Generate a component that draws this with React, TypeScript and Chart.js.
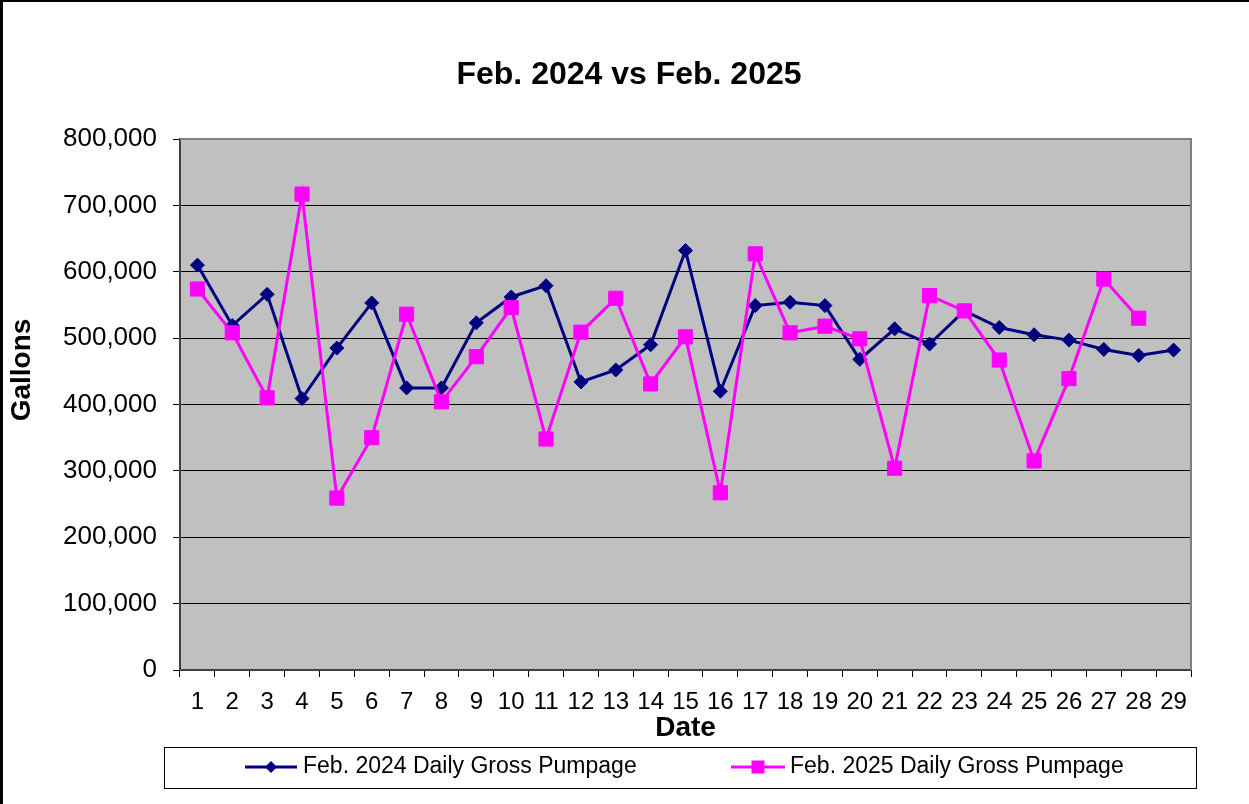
import React, { useEffect, useRef } from "react";
import { Chart, registerables } from "chart.js";

Chart.register(...registerables);

const days = [
  "1", "2", "3", "4", "5", "6", "7", "8", "9", "10",
  "11", "12", "13", "14", "15", "16", "17", "18", "19", "20",
  "21", "22", "23", "24", "25", "26", "27", "28", "29",
];

const feb2024 = [
  610000, 519000, 566000, 409000, 485000, 553000, 425000, 425000, 523000, 562000,
  579000, 434000, 452000, 490000, 632000, 420000, 549000, 554000, 549000, 468000,
  514000, 491000, 541000, 516000, 505000, 497000, 483000, 474000, 482000,
];

const feb2025 = [
  574000, 508000, 410000, 717000, 259000, 350000, 536000, 404000, 472000, 546000,
  348000, 509000, 560000, 431000, 502000, 267000, 627000, 508000, 518000, 499000,
  304000, 564000, 541000, 467000, 315000, 439000, 589000, 530000, null,
];

const seriesNames = ["Feb. 2024 Daily Gross Pumpage", "Feb. 2025 Daily Gross Pumpage"];
const chartTitle = "Feb. 2024 vs Feb. 2025";
const xTitle = "Date";
const yTitle = "Gallons";
const yMin = 0;
const yMax = 800000;
const yStep = 100000;

const FONT = "'Liberation Sans', Arial, Helvetica, sans-serif";
const NAVY = "#000080";
const PINK = "#FF00FF";

const decorPlugin = {
  id: "decor",
  beforeDraw(chart: any) {
    const { ctx, chartArea: a, width, height } = chart;
    ctx.save();
    ctx.fillStyle = "#ffffff";
    ctx.fillRect(0, 0, width, height);
    ctx.fillStyle = "#C0C0C0";
    ctx.fillRect(a.left, a.top, a.right - a.left, a.bottom - a.top);
    ctx.restore();
  },
  afterDraw(chart: any) {
    const { ctx, chartArea: a, width, height } = chart;
    ctx.save();
    // plot frame (top and right)
    ctx.strokeStyle = "#808080";
    ctx.lineWidth = 2;
    ctx.beginPath();
    ctx.moveTo(a.left, a.top);
    ctx.lineTo(a.right, a.top);
    ctx.lineTo(a.right, a.bottom);
    ctx.stroke();

    // outer chart border (left and top visible)
    ctx.fillStyle = "#000";
    ctx.fillRect(0, 0, 3, height);
    ctx.fillRect(0, 0, width, 2);

    // chart title
    ctx.font = `bold 32px ${FONT}`;
    ctx.fillStyle = "#000";
    ctx.textAlign = "center";
    ctx.textBaseline = "middle";
    ctx.fillText(chartTitle, 629, 75);

    // y axis title
    ctx.save();
    ctx.translate(22, 370);
    ctx.rotate(-Math.PI / 2);
    ctx.font = `bold 28px ${FONT}`;
    ctx.fillStyle = "#000";
    ctx.textAlign = "center";
    ctx.textBaseline = "middle";
    ctx.fillText(yTitle, 0, 0);
    ctx.restore();

    // legend box
    ctx.strokeStyle = "#000";
    ctx.lineWidth = 1;
    ctx.strokeRect(164.5, 747.5, 1032, 41);
    const cy = 767;
    const items = [
      { x0: 245, x1: 297, tx: 303 },
      { x0: 731, x1: 785, tx: 790 },
    ];
    chart.data.datasets.forEach((ds: any, i: number) => {
      const it = items[i];
      ctx.strokeStyle = ds.borderColor;
      ctx.lineWidth = 3;
      ctx.beginPath();
      ctx.moveTo(it.x0, cy);
      ctx.lineTo(it.x1, cy);
      ctx.stroke();
      const mx = (it.x0 + it.x1) / 2;
      ctx.fillStyle = ds.borderColor;
      if (ds.pointStyle === "rectRot") {
        const r = 6;
        ctx.beginPath();
        ctx.moveTo(mx, cy - r);
        ctx.lineTo(mx + r, cy);
        ctx.lineTo(mx, cy + r);
        ctx.lineTo(mx - r, cy);
        ctx.closePath();
        ctx.fill();
      } else {
        const s = 13;
        ctx.fillRect(mx - s / 2, cy - s / 2, s, s);
      }
      ctx.fillStyle = "#000";
      ctx.font = `23px ${FONT}`;
      ctx.textAlign = "left";
      ctx.textBaseline = "middle";
      ctx.fillText(ds.label, it.tx, cy);
    });
    ctx.restore();
  },
};

export default function App() {
  const canvasRef = useRef<HTMLCanvasElement | null>(null);

  useEffect(() => {
    const canvas = canvasRef.current;
    if (!canvas) return;
    const chart = new Chart(canvas, {
      type: "line",
      data: {
        labels: days,
        datasets: [
          {
            label: seriesNames[0],
            data: feb2024,
            borderColor: NAVY,
            backgroundColor: NAVY,
            borderWidth: 3,
            pointStyle: "rectRot",
            pointRadius: 7,
            pointBorderWidth: 1,
            pointBackgroundColor: NAVY,
            pointBorderColor: NAVY,
            tension: 0,
            fill: false,
            order: 1,
          },
          {
            label: seriesNames[1],
            data: feb2025,
            borderColor: PINK,
            backgroundColor: PINK,
            borderWidth: 3,
            pointStyle: "rect",
            pointRadius: 10,
            pointBorderWidth: 1,
            pointBackgroundColor: PINK,
            pointBorderColor: PINK,
            tension: 0,
            fill: false,
            spanGaps: false,
            order: 0,
          },
        ],
      },
      options: {
        responsive: false,
        animation: false,
        events: [],
        devicePixelRatio: 1,
        layout: { padding: { left: 0, right: 58, top: 139, bottom: 0 } },
        plugins: {
          legend: { display: false },
          tooltip: { enabled: false },
          title: { display: false, text: chartTitle },
        },
        scales: {
          x: {
            type: "category",
            offset: true,
            grid: {
              offset: true,
              drawOnChartArea: false,
              drawTicks: true,
              tickLength: 7,
              color: "#000",
              lineWidth: 1,
            },
            border: { display: true, color: "#404040", width: 2 },
            ticks: {
              color: "#000",
              font: { family: FONT, size: 24 },
              padding: 11,
              maxRotation: 0,
              autoSkip: false,
            },
            title: {
              display: true,
              text: xTitle,
              color: "#000",
              font: { family: FONT, size: 28, weight: "bold" },
              padding: { top: 0, bottom: 59 },
            },
            afterFit(scale: any) {
              scale.height = 134;
            },
          },
          y: {
            min: yMin,
            max: yMax,
            grid: {
              color: "#000",
              lineWidth: 1,
              drawTicks: true,
              tickLength: 7,
            },
            border: { display: true, color: "#404040", width: 2 },
            ticks: {
              stepSize: yStep,
              color: "#000",
              font: { family: FONT, size: 26 },
              padding: 16,
              callback: (v: any) => Number(v).toLocaleString("en-US"),
            },
            afterFit(scale: any) {
              scale.width = 180;
            },
          },
        },
      },
      plugins: [decorPlugin],
    } as any);
    return () => chart.destroy();
  }, []);

  return (
    <div style={{ position: "absolute", left: 0, top: 0, width: 1249, height: 804 }}>
      <canvas ref={canvasRef} width={1249} height={804} />
    </div>
  );
}
